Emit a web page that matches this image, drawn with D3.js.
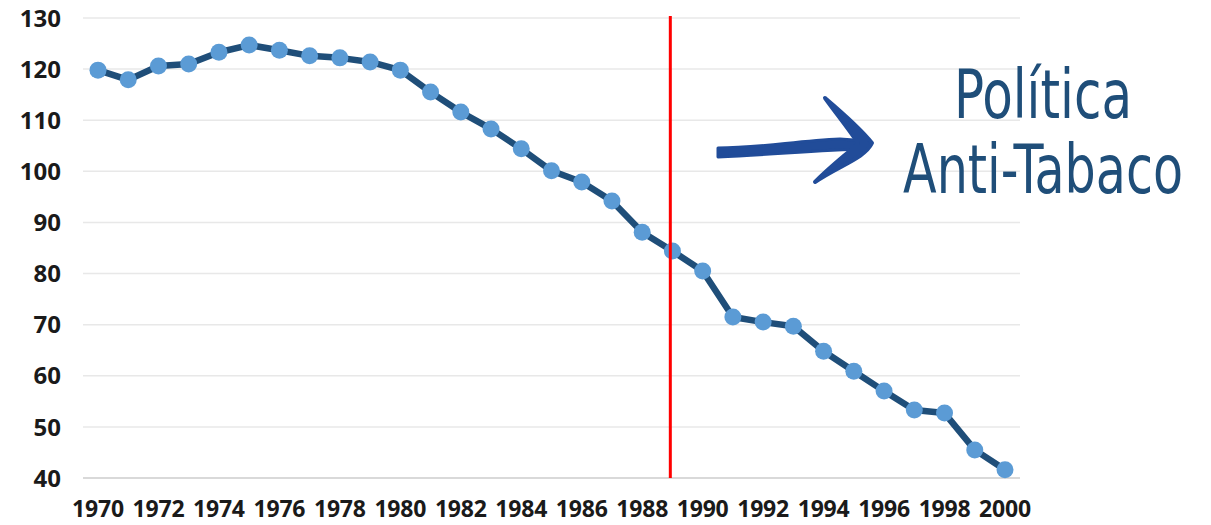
<!DOCTYPE html>
<html>
<head>
<meta charset="utf-8">
<script src="https://cdn.jsdelivr.net/npm/d3@7"></script>
<style>
  html, body { margin: 0; padding: 0; background: #fff; }
  svg { display: block; }
</style>
</head>
<body>
<svg id="svg"></svg>
<script>
const svgWidth = 1211;
const svgHeight = 525;

const years = d3.range(1970, 2001);
const values = [
  119.8, 117.9, 120.6, 121.0, 123.3, 124.7, 123.7, 122.6, 122.2, 121.4,
  119.8, 115.5, 111.6, 108.3, 104.4, 100.1, 97.9, 94.2, 88.1, 84.4,
  80.5, 71.5, 70.5, 69.7, 64.8, 60.9, 57.0, 53.3, 52.7, 45.5, 41.6
];
const yTicks = [40, 50, 60, 70, 80, 90, 100, 110, 120, 130];
const xTickYears = years.filter(y => (y - 1970) % 2 === 0);
const policyYear = 1988.93;
const titleLines = ["Política", "Anti-Tabaco"];

let svg = d3.select("#svg").attr("width", svgWidth).attr("height", svgHeight);

const plotLeft = 83, plotRight = 1020;
const xScale = d3.scaleLinear().domain([1970, 2000]).range([98, 1005]);
const yScale = d3.scaleLinear().domain([40, 130]).range([478, 18]);

// gridlines
svg.append("g")
  .selectAll("line")
  .data(yTicks)
  .join("line")
  .attr("x1", plotLeft)
  .attr("x2", plotRight)
  .attr("y1", d => yScale(d))
  .attr("y2", d => yScale(d))
  .attr("stroke", d => d === 40 ? "#d9d9d9" : "#e8e8e8")
  .attr("stroke-width", d => d === 40 ? 2 : 1.5);

// y labels
svg.append("g")
  .selectAll("text")
  .data(yTicks)
  .join("text")
  .attr("x", 61)
  .attr("y", d => yScale(d))
  .attr("dy", "0.36em")
  .attr("text-anchor", "end")
  .style("font-family", "'Open Sans', sans-serif")
  .style("font-weight", 700)
  .style("font-size", "24px")
  .style("fill", "#1a1a1a")
  .text(d => d);

// x labels
svg.append("g")
  .selectAll("text")
  .data(xTickYears)
  .join("text")
  .attr("x", d => xScale(d))
  .attr("y", 517)
  .attr("text-anchor", "middle")
  .style("font-family", "'Open Sans', sans-serif")
  .style("font-weight", 700)
  .style("font-size", "23px")
  .style("letter-spacing", "-0.2px")
  .style("fill", "#1a1a1a")
  .text(d => d);

const points = years.map((y, i) => ({ year: y, value: values[i] }));

// line
svg.append("path")
  .datum(points)
  .attr("fill", "none")
  .attr("stroke", "#1f4e79")
  .attr("stroke-width", 6.5)
  .attr("stroke-linejoin", "round")
  .attr("d", d3.line().x(d => xScale(d.year)).y(d => yScale(d.value)));

// markers
svg.append("g")
  .selectAll("circle")
  .data(points)
  .join("circle")
  .attr("cx", d => xScale(d.year))
  .attr("cy", d => yScale(d.value))
  .attr("r", 8.5)
  .attr("fill", "#5b9bd5");

// policy line
svg.append("line")
  .attr("x1", xScale(policyYear))
  .attr("x2", xScale(policyYear))
  .attr("y1", 16)
  .attr("y2", yScale(40))
  .attr("stroke", "#ff0000")
  .attr("stroke-width", 3);

// hand drawn arrow
const arrow = svg.append("g").attr("fill", "#214c99").attr("stroke", "#214c99")
  .attr("stroke-linejoin", "round").attr("stroke-linecap", "round");
arrow.append("path")
  .attr("d", "M718,148 C760,148 795,141 840,139 L868,141 L866,149 C820,150 780,154 718,157 Z")
  .attr("stroke-width", 3);
arrow.append("path")
  .attr("d", "M825,98 C845,115 860,128 872,143 C865,158 840,165 815,182 C835,162 850,152 858,143 C848,128 835,112 825,98 Z")
  .attr("stroke-width", 4);

// annotation text, squeezed horizontally to the condensed look
const targetWidths = [178, 280];
svg.append("g")
  .selectAll("text")
  .data(titleLines)
  .join("text")
  .attr("x", 0)
  .attr("y", 0)
  .attr("text-anchor", "middle")
  .style("font-family", "'DejaVu Sans Condensed', 'Liberation Sans Narrow', 'Roboto', sans-serif")
  .style("font-size", "68px")
  .style("fill", "#1f4e79")
  .text(d => d)
  .each(function (d, i) {
    const w = this.getComputedTextLength();
    const sx = targetWidths[i] / w;
    d3.select(this).attr("transform",
      "translate(1043," + (118 + i * 75) + ") scale(" + sx + ",1)");
  });
</script>
</body>
</html>
